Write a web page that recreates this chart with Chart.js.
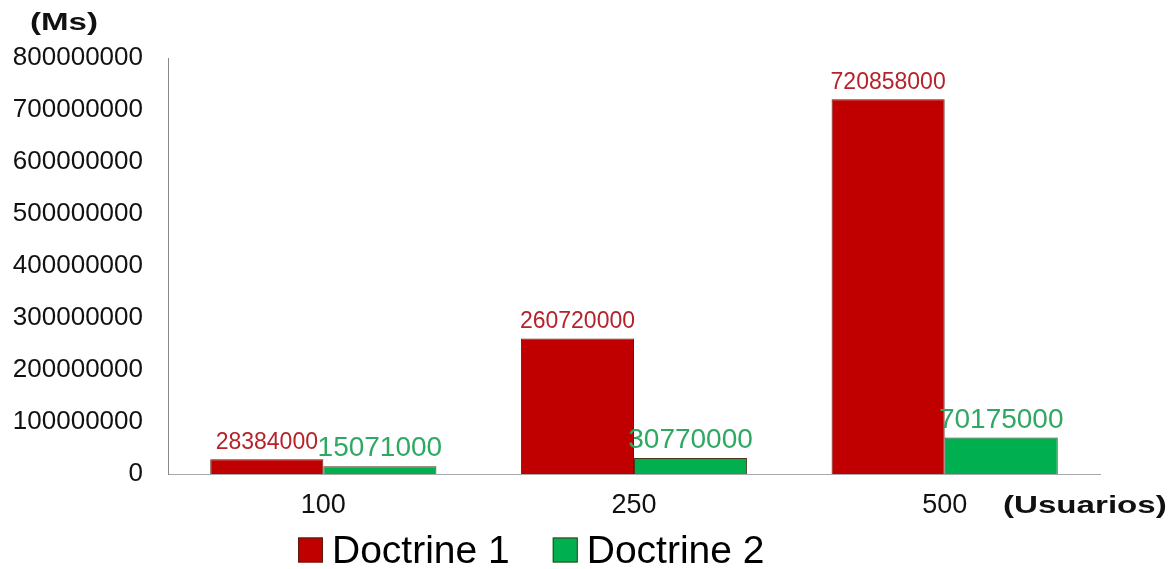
<!DOCTYPE html>
<html>
<head>
<meta charset="utf-8">
<script src="https://cdn.jsdelivr.net/npm/chart.js@4/dist/chart.umd.min.js"></script>
<style>
  html, body { margin: 0; padding: 0; background: #fff; }
  #wrap { width: 1168px; height: 569px; }
</style>
</head>
<body>
<div id="wrap"><canvas id="grafico" width="1168" height="569"></canvas></div>
<script>
const usuarios = ["100", "250", "500"];
const doctrine1 = [28384000, 260720000, 720858000];
const doctrine2 = [15071000, 30770000, 70175000];
const nombres = ["Doctrine 1", "Doctrine 2"];

const fuente = "'Liberation Sans', Arial, sans-serif";

// texto en negrita un poco ensanchado, como en la imagen original
function textoAncho(ctx, texto, x, y, escala){
  ctx.save();
  ctx.translate(x, y);
  ctx.scale(escala, 1);
  ctx.fillText(texto, 0, 0);
  ctx.restore();
}

// etiquetas de valor, titulos de ejes y leyenda
const etiquetas = {
  id: "etiquetas",
  afterDatasetsDraw(chart){
    const ctx = chart.ctx;
    const estilos = [
      { size: 23, color: "#B5222A" },
      { size: 28, color: "#2EA862" }
    ];
    chart.data.datasets.forEach((ds, i) => {
      const meta = chart.getDatasetMeta(i);
      meta.data.forEach((bar, j) => {
        ctx.save();
        ctx.font = estilos[i].size + "px " + fuente;
        ctx.fillStyle = estilos[i].color;
        ctx.textAlign = "center";
        ctx.textBaseline = "alphabetic";
        ctx.fillText(ds.data[j], bar.x, bar.y - 10);
        ctx.restore();
      });
    });

    const area = chart.chartArea;
    ctx.save();
    ctx.font = "bold 24px " + fuente;
    ctx.fillStyle = "#111";
    ctx.textBaseline = "middle";
    ctx.textAlign = "left";
    textoAncho(ctx, "(Ms)", 30, 23, 1.38);
    textoAncho(ctx, "(Usuarios)", area.right - 97, 506, 1.38);
    ctx.restore();

    // leyenda
    ctx.save();
    ctx.font = "39px " + fuente;
    ctx.textBaseline = "middle";
    ctx.textAlign = "left";
    let x = 298;
    const y = 550;
    chart.data.datasets.forEach(ds => {
      ctx.fillStyle = ds.backgroundColor;
      ctx.fillRect(x, y - 12.5, 25, 25);
      ctx.strokeStyle = ds.borderColor;
      ctx.lineWidth = 1;
      ctx.strokeRect(x + 0.5, y - 12, 24, 24);
      ctx.fillStyle = "#000";
      ctx.fillText(ds.label, x + 34, y + 2);
      x += 34 + ctx.measureText(ds.label).width + 43;
    });
    ctx.restore();
  }
};

new Chart(document.getElementById("grafico"), {
  type: "bar",
  data: {
    labels: usuarios,
    datasets: [
      {
        label: nombres[0],
        data: doctrine1,
        backgroundColor: "#C00000",
        borderColor: "#5A1A10",
        borderWidth: 1
      },
      {
        label: nombres[1],
        data: doctrine2,
        backgroundColor: "#00B050",
        borderColor: "#4A3A1A",
        borderWidth: 1
      }
    ]
  },
  options: {
    responsive: false,
    animation: false,
    layout: { padding: { top: 58, right: 68, left: 12, bottom: 48 } },
    datasets: { bar: { categoryPercentage: 0.728, barPercentage: 1.0 } },
    plugins: {
      tooltip: { enabled: false },
      legend: { display: false }
    },
    scales: {
      x: {
        grid: { display: false, drawTicks: false },
        border: { display: true, color: "#A8A8A8", width: 1 },
        ticks: { font: { family: fuente, size: 27 }, color: "#111", padding: 15 },
        afterFit(scale){ scale.height = 47; }
      },
      y: {
        min: 0,
        max: 800000000,
        grid: { display: false, drawTicks: false },
        border: { display: true, color: "#888", width: 1 },
        ticks: {
          stepSize: 100000000,
          font: { family: fuente, size: 26 },
          color: "#111",
          padding: 25,
          callback: v => String(v)
        },
        afterFit(scale){ scale.width = 156; }
      }
    }
  },
  plugins: [etiquetas]
});
</script>
</body>
</html>
